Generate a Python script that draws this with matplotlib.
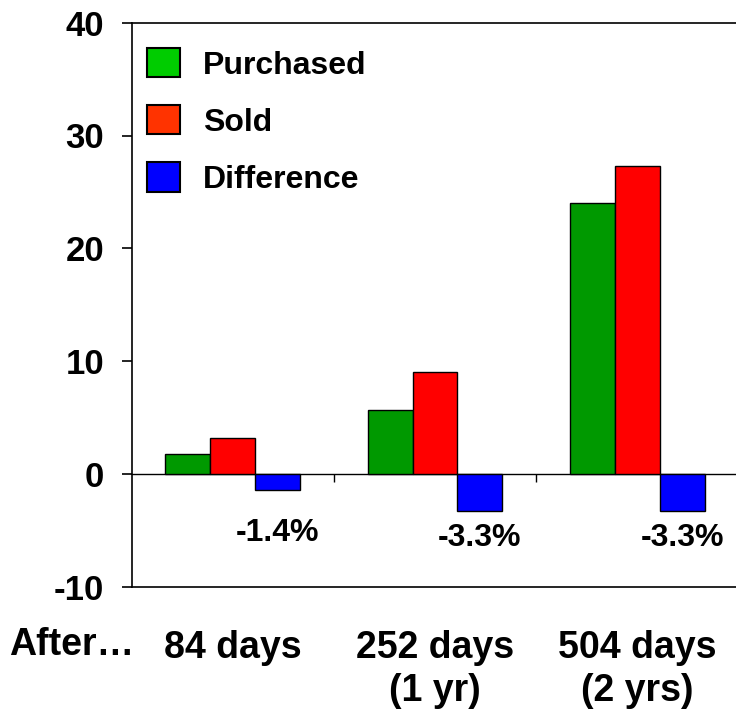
import numpy as np
import matplotlib
matplotlib.use("Agg")
import matplotlib.pyplot as plt
from matplotlib.patches import Patch

plt.rcParams['font.family'] = ['Liberation Sans', 'DejaVu Sans']
plt.rcParams['font.weight'] = 'bold'

# holding-period returns (%)
periods = ['84 days', '252 days\n(1 yr)', '504 days\n(2 yrs)']
purchased = [1.8, 5.7, 24.0]
sold = [3.2, 9.0, 27.3]
difference = [-1.4, -3.3, -3.3]
series_names = ['Purchased', 'Sold', 'Difference']
yticks = [-10, 0, 10, 20, 30, 40]

bar_colors = ['#009900', '#FF0000', '#0000FF']
legend_colors = ['#00CC00', '#FF3300', '#0000FF']

fig = plt.figure(figsize=(7.36, 7.11), dpi=100)
ax = fig.add_axes([131.7 / 736, 1 - 586.7 / 711, 606.6 / 736, 564 / 711])

x = np.arange(len(periods))
w = 0.222
for i, vals in enumerate([purchased, sold, difference]):
    ax.bar(x + (i - 1) * w, vals, w, color=bar_colors[i],
           edgecolor='black', linewidth=1.0, zorder=3)

# percentage labels under the difference bars
diff = np.array(difference)
for xi, v in zip(x + w, diff):
    ax.text(xi, min(v, -2.9) - 1.05, f'{v:.1f}%', ha='center', va='top',
            fontsize=23, fontweight='bold')

ax.set_xlim(-0.5, 2.5)
ax.set_ylim(-10, 40)
ax.set_yticks(yticks)
ax.set_yticklabels([str(t) for t in yticks], fontsize=25, fontweight='bold')
ax.tick_params(axis='y', direction='out', length=7, width=1.2, pad=13)

ax.set_xticks(x)
ax.set_xticklabels(periods, fontsize=27, fontweight='bold', linespacing=1.25)
ax.tick_params(axis='x', length=0, pad=31)

for s in ['left', 'top', 'bottom']:
    ax.spines[s].set_linewidth(1.2)
ax.spines['right'].set_visible(False)

# zero line with separators between the groups
zero = ax.secondary_xaxis(0.2)
zero.set_xticks([0.5, 1.5])
zero.set_xticklabels([])
zero.tick_params(direction='out', length=6, width=1.0)
zero.spines['bottom'].set_linewidth(1.0)

fig.text(72 / 736, 1 - 645 / 711, 'After…', ha='center', va='center',
         fontsize=27, fontweight='bold')

handles = [Patch(facecolor=c, edgecolor='black', linewidth=1.5) for c in legend_colors]
ax.legend(handles, series_names, loc='upper left', bbox_to_anchor=(15 / 606.6, 0.955),
          frameon=False, handlelength=1.03, handleheight=1.03,
          handletextpad=0.72, labelspacing=0.77, borderpad=0, borderaxespad=0,
          prop={'weight': 'bold', 'size': 23})

fig.savefig('out.png', dpi=100)
